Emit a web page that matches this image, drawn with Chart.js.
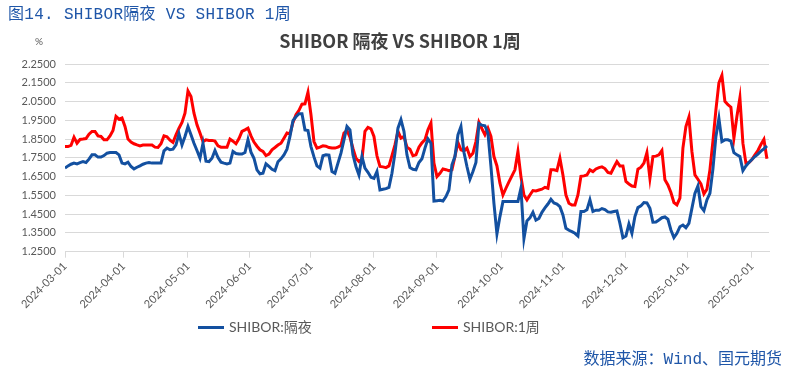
<!DOCTYPE html>
<html>
<head>
<meta charset="utf-8">
<script src="https://cdn.jsdelivr.net/npm/chart.js@4.4.1/dist/chart.umd.min.js"></script>
<style>
  html, body { margin: 0; padding: 0; background: #fff; }
  #wrap { position: relative; width: 791px; height: 376px; overflow: hidden; }
  #chartBox { position: absolute; left: 0; top: 0; width: 791px; height: 376px; }
  .caption { position: absolute; left: 8px; top: 0px; font: 16px "Liberation Mono", "Noto Sans CJK SC", monospace; color: #1f56a8; white-space: nowrap; letter-spacing: 0.3px; }
  .title { position: absolute; left: 0; width: 800px; top: 27px; text-align: center; font: bold 18px "Noto Sans CJK SC", "Open Sans", sans-serif; color: #404040; white-space: nowrap; }
  .unit { position: absolute; left: 35px; top: 35px; font: 10px "Lato", sans-serif; color: #595959; }
  .legend { position: absolute; top: 316px; font: 14px "Lato", "Noto Sans CJK SC", sans-serif; color: #595959; white-space: nowrap; }
  .legend span.sw { display: inline-block; width: 26px; height: 3px; vertical-align: middle; margin-right: 5px; position: relative; top: -1px; }
  .source { position: absolute; right: 9px; top: 345px; font: 16px "Liberation Mono", "Noto Sans CJK SC", monospace; color: #1f56a8; white-space: nowrap; }
</style>
</head>
<body>
<div id="wrap">
  <div id="chartBox"><canvas id="chart_shibor"></canvas></div>
  <div class="caption">图14. SHIBOR隔夜 VS SHIBOR 1周</div>
  <div class="title">SHIBOR 隔夜 VS SHIBOR 1周</div>
  <div class="unit">%</div>
  <div class="legend" id="legend0" style="left:198px"></div>
  <div class="legend" id="legend1" style="left:432px"></div>
  <div class="source">数据来源：Wind、国元期货</div>
</div>
<script>
// month labels and where they fall, in trading-day index
var monthLabels = ['2024-03-01', '2024-04-01', '2024-05-01', '2024-06-01', '2024-07-01', '2024-08-01',
                   '2024-09-01', '2024-10-01', '2024-11-01', '2024-12-01', '2025-01-01', '2025-02-01'];
var monthIdx = [0, 19.5, 41, 61.5, 82, 103, 124, 145.5, 166, 187, 207.5, 229];

var seriesNames = ['SHIBOR:隔夜', 'SHIBOR:1周'];
var seriesColors = ['#1350a0', '#ff0000'];

// SHIBOR overnight, one value per trading day
var overnight = [
  1.695, 1.707, 1.716, 1.722, 1.718, 1.725, 1.730, 1.725, 1.743, 1.766,
  1.766, 1.754, 1.754, 1.762, 1.775, 1.778, 1.778, 1.778, 1.766, 1.722,
  1.718, 1.727, 1.704, 1.691, 1.700, 1.707, 1.716, 1.722, 1.725, 1.722,
  1.722, 1.722, 1.722, 1.787, 1.802, 1.793, 1.796, 1.819, 1.878, 1.819,
  1.864, 1.917, 1.873, 1.828, 1.789, 1.748, 1.828, 1.732, 1.730, 1.748,
  1.789, 1.752, 1.727, 1.722, 1.718, 1.722, 1.784, 1.773, 1.770, 1.770,
  1.778, 1.846, 1.780, 1.748, 1.686, 1.665, 1.668, 1.718, 1.704, 1.689,
  1.682, 1.729, 1.745, 1.766, 1.796, 1.864, 1.948, 1.969, 1.985, 1.985,
  1.899, 1.896, 1.810, 1.755, 1.707, 1.695, 1.761, 1.766, 1.764, 1.677,
  1.668, 1.722, 1.775, 1.846, 1.917, 1.899, 1.766, 1.704, 1.659, 1.757,
  1.695, 1.673, 1.647, 1.641, 1.677, 1.579, 1.583, 1.586, 1.593, 1.668,
  1.775, 1.908, 1.953, 1.891, 1.766, 1.698, 1.689, 1.686, 1.725, 1.745,
  1.802, 1.851, 1.828, 1.520, 1.522, 1.524, 1.520, 1.544, 1.579, 1.713,
  1.757, 1.873, 1.917, 1.780, 1.704, 1.636, 1.677, 1.725, 1.933, 1.924,
  1.921, 1.882, 1.704, 1.508, 1.345, 1.437, 1.517, 1.517, 1.517, 1.517,
  1.517, 1.517, 1.588, 1.320, 1.414, 1.430, 1.460, 1.418, 1.427, 1.460,
  1.483, 1.504, 1.529, 1.510, 1.504, 1.490, 1.446, 1.375, 1.364, 1.357,
  1.348, 1.334, 1.464, 1.464, 1.473, 1.526, 1.464, 1.471, 1.471, 1.480,
  1.474, 1.462, 1.460, 1.464, 1.467, 1.401, 1.325, 1.334, 1.398, 1.348,
  1.437, 1.485, 1.494, 1.512, 1.510, 1.481, 1.407, 1.408, 1.419, 1.431,
  1.435, 1.423, 1.366, 1.325, 1.348, 1.383, 1.392, 1.378, 1.401, 1.481,
  1.561, 1.600, 1.490, 1.469, 1.526, 1.561, 1.690, 1.864, 1.960, 1.837,
  1.846, 1.846, 1.839, 1.778, 1.766, 1.757, 1.682, 1.707, 1.725, 1.741,
  1.757, 1.770, 1.786, 1.798, 1.814
];

// SHIBOR 1 week
var oneWeek = [
  1.810, 1.810, 1.816, 1.860, 1.828, 1.848, 1.850, 1.853, 1.876, 1.891,
  1.891, 1.867, 1.864, 1.846, 1.846, 1.867, 1.896, 1.971, 1.956, 1.962,
  1.917, 1.850, 1.834, 1.825, 1.819, 1.814, 1.818, 1.819, 1.819, 1.818,
  1.807, 1.805, 1.825, 1.867, 1.862, 1.844, 1.832, 1.873, 1.908, 1.939,
  1.988, 2.106, 2.077, 1.988, 1.926, 1.882, 1.837, 1.846, 1.843, 1.843,
  1.839, 1.814, 1.807, 1.807, 1.807, 1.850, 1.839, 1.825, 1.853, 1.891,
  1.899, 1.908, 1.867, 1.834, 1.812, 1.793, 1.784, 1.762, 1.770, 1.793,
  1.805, 1.818, 1.828, 1.855, 1.882, 1.878, 1.939, 1.980, 2.003, 2.036,
  2.038, 2.099, 1.980, 1.837, 1.802, 1.807, 1.814, 1.812, 1.805, 1.802,
  1.802, 1.807, 1.816, 1.882, 1.896, 1.860, 1.800, 1.748, 1.730, 1.741,
  1.891, 1.912, 1.905, 1.864, 1.761, 1.704, 1.702, 1.698, 1.707, 1.762,
  1.819, 1.891, 1.855, 1.864, 1.807, 1.796, 1.761, 1.766, 1.807, 1.830,
  1.846, 1.899, 1.935, 1.722, 1.650, 1.668, 1.691, 1.687, 1.682, 1.686,
  1.757, 1.832, 1.793, 1.787, 1.802, 1.757, 1.775, 1.837, 1.939, 1.905,
  1.873, 1.908, 1.864, 1.757, 1.707, 1.615, 1.552, 1.588, 1.622, 1.654,
  1.686, 1.784, 1.650, 1.552, 1.526, 1.552, 1.576, 1.574, 1.579, 1.583,
  1.593, 1.588, 1.686, 1.686, 1.682, 1.748, 1.659, 1.552, 1.508, 1.499,
  1.499, 1.552, 1.652, 1.654, 1.659, 1.686, 1.677, 1.691, 1.698, 1.702,
  1.693, 1.672, 1.668, 1.700, 1.730, 1.707, 1.707, 1.624, 1.611, 1.600,
  1.597, 1.690, 1.700, 1.722, 1.778, 1.641, 1.757, 1.759, 1.766, 1.789,
  1.633, 1.606, 1.565, 1.512, 1.499, 1.535, 1.802, 1.917, 1.967, 1.784,
  1.659, 1.636, 1.611, 1.558, 1.583, 1.686, 1.837, 2.006, 2.150, 2.190,
  2.051, 2.033, 2.020, 1.855, 1.970, 2.070, 1.828, 1.722, 1.725, 1.741,
  1.766, 1.789, 1.821, 1.848, 1.745
];

function toPoints(values) {
    return values.map(function(v, i) { return { x: i, y: v }; });
}

var tickFont = { family: 'Lato, "Noto Sans", sans-serif', size: 11 };

var chart_shibor = new Chart(document.getElementById('chart_shibor'), {
    type: 'line',
    data: {
        datasets: [
            {
                label: seriesNames[0],
                data: toPoints(overnight),
                borderColor: seriesColors[0],
                backgroundColor: seriesColors[0],
                borderWidth: 3,
                pointRadius: 0,
                tension: 0
            },
            {
                label: seriesNames[1],
                data: toPoints(oneWeek),
                borderColor: seriesColors[1],
                backgroundColor: seriesColors[1],
                borderWidth: 3,
                pointRadius: 0,
                tension: 0
            }
        ]
    },
    options: {
        animation: false,
        responsive: true,
        maintainAspectRatio: false,
        layout: {
            padding: { top: 64, right: 22, left: 0, bottom: 0 }
        },
        plugins: {
            legend: { display: false },
            tooltip: { enabled: false }
        },
        scales: {
            x: {
                type: 'linear',
                min: 0,
                max: 234.7,
                afterBuildTicks: function(scale) {
                    scale.ticks = monthIdx.map(function(v) { return { value: v }; });
                },
                afterFit: function(scale) {
                    scale.height = 124.3;
                },
                ticks: {
                    autoSkip: false,
                    minRotation: 45,
                    maxRotation: 45,
                    padding: 2,
                    color: '#595959',
                    font: tickFont,
                    callback: function(value, index) {
                        return monthLabels[index];
                    }
                },
                grid: {
                    drawOnChartArea: false,
                    drawTicks: true,
                    tickLength: 6,
                    color: '#d9d9d9'
                },
                border: { display: true, color: '#d9d9d9', width: 1 }
            },
            y: {
                min: 1.25,
                max: 2.25,
                afterFit: function(scale) {
                    scale.width = 65;
                },
                ticks: {
                    stepSize: 0.1,
                    padding: 9,
                    color: '#595959',
                    font: tickFont,
                    callback: function(value) {
                        return value.toFixed(4);
                    }
                },
                grid: {
                    drawTicks: false,
                    color: '#d9d9d9',
                    lineWidth: 1
                },
                border: { display: false }
            }
        }
    },
    plugins: [{
        id: 'whiteBg',
        beforeDraw: (chart) => {
            const ctx = chart.canvas.getContext('2d');
            ctx.save();
            ctx.globalCompositeOperation = 'destination-over';
            ctx.fillStyle = 'white';
            ctx.fillRect(0, 0, chart.canvas.width, chart.canvas.height);
            ctx.restore();
        }
    }]
});

// legend drawn from the dataset names and colours
chart_shibor.data.datasets.forEach(function(ds, i) {
    var el = document.getElementById('legend' + i);
    el.innerHTML = '<span class="sw" style="background:' + ds.borderColor + '"></span>' + ds.label;
});
</script>
</body>
</html>
